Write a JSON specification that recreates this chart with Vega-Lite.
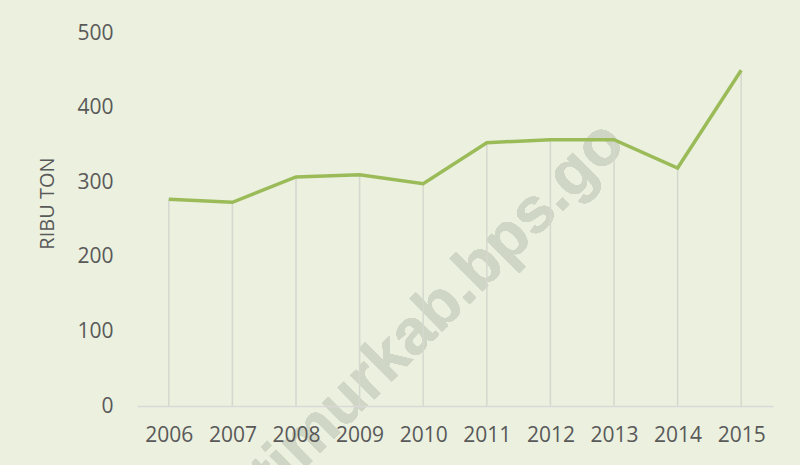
{
  "$schema": "https://vega.github.io/schema/vega-lite/v6.json",
  "width": 636,
  "height": 373,
  "autosize": {"type": "none"},
  "padding": {"left": 137, "top": 33, "right": 27, "bottom": 59},
  "background": "#EBF0DF",
  "config": {
    "view": {"stroke": null},
    "font": "Open Sans"
  },
  "data": {
    "values": [
      {"year": "2006", "value": 277},
      {"year": "2007", "value": 273},
      {"year": "2008", "value": 307},
      {"year": "2009", "value": 310},
      {"year": "2010", "value": 298},
      {"year": "2011", "value": 353},
      {"year": "2012", "value": 357},
      {"year": "2013", "value": 357},
      {"year": "2014", "value": 319},
      {"year": "2015", "value": 450}
    ]
  },
  "encoding": {
    "x": {
      "field": "year", "type": "ordinal",
      "scale": {"type": "point", "padding": 0.5},
      "axis": {
        "title": null, "labelAngle": 0, "ticks": false, "tickSize": 0,
        "labelFontSize": 21, "labelColor": "#595959", "labelPadding": 18,
        "domainColor": "#D9D9D9", "domainWidth": 1.5, "grid": false,
        "zindex": 1
      }
    },
    "y": {
      "field": "value", "type": "quantitative",
      "scale": {"domain": [0, 500], "nice": false},
      "axis": {
        "title": "RIBU TON", "titleFontSize": 20, "titleFontWeight": "normal",
        "titleColor": "#595959", "titleBaseline": "alphabetic",
        "titleX": -84, "titleY": 170, "titleAngle": -90,
        "values": [0, 100, 200, 300, 400, 500],
        "ticks": false, "tickSize": 0, "domain": false, "grid": false,
        "labelFontSize": 21, "labelColor": "#595959", "labelPadding": 24
      }
    }
  },
  "layer": [
    {
      "mark": {
        "type": "text", "text": "timurkab.bps.go", "font": "Liberation Sans",
        "fontWeight": "bold", "fontSize": 64, "angle": 315,
        "align": "center", "baseline": "middle", "dx": -5, "dy": 26,
        "color": "#D0D6C5"
      },
      "encoding": {
        "x": {"datum": "2010"},
        "y": {"datum": 160}
      }
    },
    {
      "mark": {"type": "rule", "color": "#D5D8CE", "strokeWidth": 1.5},
      "encoding": {"y2": {"datum": 0}}
    },
    {
      "mark": {"type": "line", "color": "#9BBB59", "strokeWidth": 3.5}
    }
  ]
}
